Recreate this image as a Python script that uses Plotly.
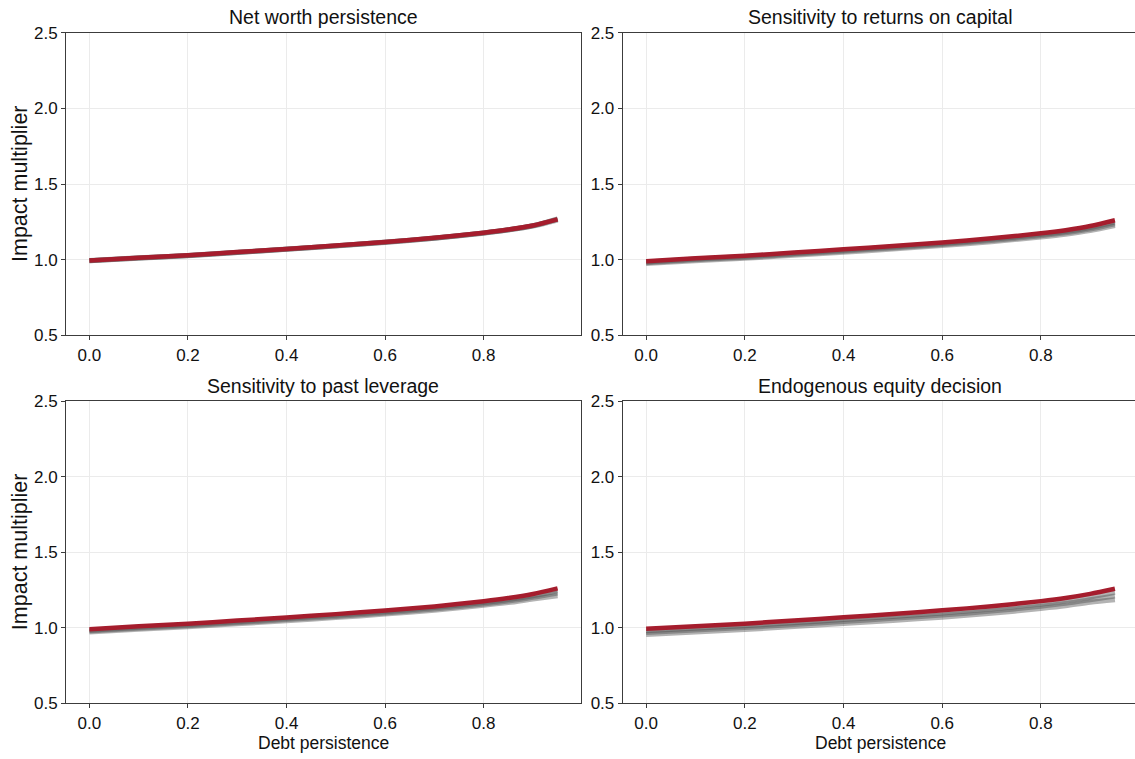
import plotly.graph_objects as go

# ---------------- data ----------------
debt_persistence = [0.0, 0.1, 0.2, 0.3, 0.4, 0.5, 0.6, 0.7, 0.8, 0.85, 0.9, 0.95]

panel_titles = [
    "Net worth persistence",
    "Sensitivity to returns on capital",
    "Sensitivity to past leverage",
    "Endogenous equity decision",
]

# Panel A: Net worth persistence
red_A = [0.995, 1.013, 1.029, 1.050, 1.071, 1.093, 1.117, 1.144, 1.178, 1.199, 1.226, 1.266]
gray_A1 = [0.994, 1.012, 1.028, 1.049, 1.070, 1.092, 1.116, 1.143, 1.177, 1.198, 1.225, 1.268]
gray_A2 = [0.993, 1.011, 1.027, 1.048, 1.069, 1.091, 1.115, 1.142, 1.176, 1.197, 1.224, 1.270]
gray_A3 = [0.992, 1.010, 1.026, 1.047, 1.068, 1.090, 1.114, 1.141, 1.175, 1.196, 1.222, 1.262]

# Panel B: Sensitivity to returns on capital
red_B = [0.990, 1.009, 1.026, 1.047, 1.068, 1.090, 1.114, 1.141, 1.174, 1.195, 1.222, 1.260]
gray_B1 = [0.985, 1.004, 1.021, 1.041, 1.062, 1.084, 1.107, 1.134, 1.166, 1.186, 1.212, 1.248]
gray_B2 = [0.980, 0.999, 1.015, 1.035, 1.056, 1.077, 1.100, 1.126, 1.158, 1.177, 1.202, 1.237]
gray_B3 = [0.975, 0.993, 1.009, 1.029, 1.049, 1.070, 1.093, 1.119, 1.150, 1.168, 1.192, 1.225]

# Panel C: Sensitivity to past leverage
red_C = [0.990, 1.009, 1.026, 1.047, 1.068, 1.090, 1.114, 1.141, 1.175, 1.196, 1.223, 1.260]
gray_C1 = [0.984, 1.003, 1.020, 1.040, 1.061, 1.083, 1.106, 1.133, 1.166, 1.186, 1.212, 1.245]
gray_C2 = [0.978, 0.997, 1.013, 1.033, 1.054, 1.075, 1.098, 1.124, 1.157, 1.176, 1.201, 1.230]
gray_C3 = [0.972, 0.990, 1.006, 1.026, 1.046, 1.067, 1.090, 1.116, 1.148, 1.166, 1.190, 1.212]

# Panel D: Endogenous equity decision
red_D = [0.993, 1.010, 1.027, 1.048, 1.069, 1.091, 1.115, 1.142, 1.176, 1.197, 1.224, 1.258]
gray_D1 = [0.980, 0.997, 1.013, 1.033, 1.054, 1.075, 1.098, 1.124, 1.157, 1.177, 1.202, 1.234]
gray_D2 = [0.968, 0.985, 1.001, 1.021, 1.041, 1.062, 1.084, 1.110, 1.142, 1.161, 1.185, 1.210]
gray_D3 = [0.955, 0.972, 0.988, 1.008, 1.028, 1.048, 1.070, 1.095, 1.127, 1.145, 1.168, 1.185]

x_tick_vals = [0.0, 0.2, 0.4, 0.6, 0.8]
x_tick_text = ["0.0", "0.2", "0.4", "0.6", "0.8"]
y_tick_vals = [0.5, 1.0, 1.5, 2.0, 2.5]
y_tick_text = ["0.5", "1.0", "1.5", "2.0", "2.5"]

y_axis_title = "Impact multiplier"
x_axis_title = "Debt persistence"

panels = [
    (red_A, [gray_A1, gray_A2, gray_A3]),
    (red_B, [gray_B1, gray_B2, gray_B3]),
    (red_C, [gray_C1, gray_C2, gray_C3]),
    (red_D, [gray_D1, gray_D2, gray_D3]),
]

# ---------------- layout geometry ----------------
W, H = 1135, 759
FONT = "Liberation Sans, Arial, Helvetica, sans-serif"
x_domains = [[66 / W, 581 / W], [622.7 / W, 1.0]]
y_domains = [[1 - 335.3 / H, 1 - 32.7 / H], [1 - 703.3 / H, 1 - 401 / H]]
x_ranges = [[-0.0475, 0.9975], [-0.0475, 0.9907]]
centers = [323.5 / W, 880 / W]
title_y = [1 - 17 / H, 1 - 386 / H]

RED = "#a51d2d"
GRAY = "rgba(75,75,75,0.42)"
AXIS_COLOR = "#3c3c3c"
GRID_COLOR = "#ebebeb"

fig = go.Figure()

for i, (red, grays) in enumerate(panels):
    sfx = "" if i == 0 else str(i + 1)
    for g in grays:
        fig.add_trace(go.Scatter(
            x=debt_persistence, y=g, mode="lines",
            line=dict(color=GRAY, width=5, shape="spline", smoothing=0.8),
            xaxis="x" + sfx, yaxis="y" + sfx, showlegend=False, hoverinfo="skip"))
    fig.add_trace(go.Scatter(
        x=debt_persistence, y=red, mode="lines",
        line=dict(color=RED, width=4.5, shape="spline", smoothing=0.8),
        xaxis="x" + sfx, yaxis="y" + sfx, showlegend=False))

layout = dict(
    width=W, height=H,
    margin=dict(l=0, r=0, t=0, b=0, pad=0, autoexpand=False),
    paper_bgcolor="white", plot_bgcolor="white",
    font=dict(family=FONT, color="#111111"),
    showlegend=False,
)

annotations = []
for i in range(4):
    row, col = divmod(i, 2)
    sfx = "" if i == 0 else str(i + 1)
    layout["xaxis" + sfx] = dict(
        domain=x_domains[col], anchor="y" + sfx, range=x_ranges[col],
        tickvals=x_tick_vals, ticktext=x_tick_text,
        showgrid=True, gridcolor=GRID_COLOR, gridwidth=1,
        showline=True, linecolor=AXIS_COLOR, linewidth=1, mirror=True,
        ticks="outside", ticklen=4, tickcolor=AXIS_COLOR,
        tickfont=dict(family=FONT, size=17, color="#111111"),
        zeroline=False, automargin=False,
    )
    layout["yaxis" + sfx] = dict(
        domain=y_domains[row], anchor="x" + sfx, range=[0.5, 2.5],
        tickvals=y_tick_vals, ticktext=y_tick_text,
        showgrid=True, gridcolor=GRID_COLOR, gridwidth=1,
        showline=True, linecolor=AXIS_COLOR, linewidth=1,
        mirror=(col == 0),
        ticks="outside", ticklen=4, tickcolor=AXIS_COLOR,
        tickfont=dict(family=FONT, size=17, color="#111111"),
        zeroline=False, automargin=False,
    )
    annotations.append(dict(
        text=panel_titles[i], x=centers[col], y=title_y[row],
        xref="paper", yref="paper", xanchor="center", yanchor="middle",
        showarrow=False, font=dict(family=FONT, size=19.5, color="#111111")))
    if col == 0:
        annotations.append(dict(
            text=y_axis_title, x=20 / W, y=(y_domains[row][0] + y_domains[row][1]) / 2,
            xref="paper", yref="paper", xanchor="center", yanchor="middle",
            textangle=-90, showarrow=False,
            font=dict(family=FONT, size=21.5, color="#111111")))
    if row == 1:
        annotations.append(dict(
            text=x_axis_title, x=centers[col], y=1 - 743 / H,
            xref="paper", yref="paper", xanchor="center", yanchor="middle",
            showarrow=False, font=dict(family=FONT, size=17.5, color="#111111")))

layout["annotations"] = annotations
fig.update_layout(**layout)
fig.write_html("out.html")
